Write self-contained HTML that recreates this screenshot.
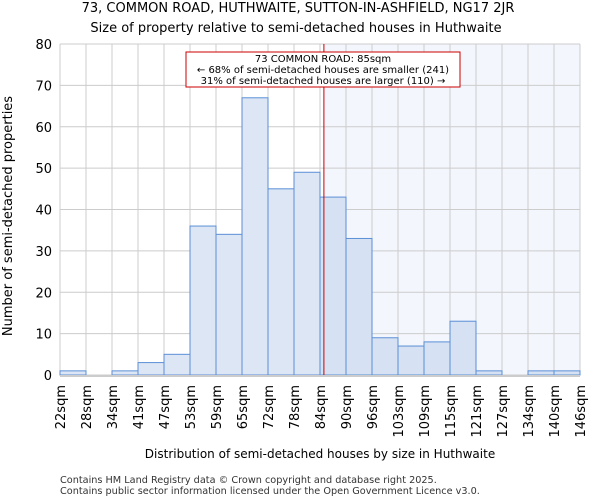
<!DOCTYPE html>
<html><head><meta charset="utf-8"><style>
body{margin:0;background:#fff;font-family:"DejaVu Sans","Liberation Sans",sans-serif}
svg text{font-family:"DejaVu Sans","Liberation Sans",sans-serif}
</style></head><body>
<svg id="chart" width="600" height="500">
<text x="298" y="12" font-size="13" text-anchor="middle">73, COMMON ROAD, HUTHWAITE, SUTTON-IN-ASHFIELD, NG17 2JR</text>
<text x="296" y="32" font-size="13" text-anchor="middle">Size of property relative to semi-detached houses in Huthwaite</text>
<g id="grid"></g><g id="bars"></g><g id="axes"></g>
<text x="320" y="458" font-size="12" text-anchor="middle">Distribution of semi-detached houses by size in Huthwaite</text>
<text transform="translate(12,216) rotate(-90)" font-size="13" text-anchor="middle">Number of semi-detached properties</text>
<text x="60" y="483" font-size="9.7" fill="#333">Contains HM Land Registry data © Crown copyright and database right 2025.</text>
<text x="60" y="494" font-size="9.7" fill="#333">Contains public sector information licensed under the Open Government Licence v3.0.</text>
</svg>
<script>
const categories=["22sqm","28sqm","34sqm","41sqm","47sqm","53sqm","59sqm","65sqm","72sqm","78sqm","84sqm","90sqm","96sqm","103sqm","109sqm","115sqm","121sqm","127sqm","134sqm","140sqm","146sqm"];
const counts=[1,0,1,3,5,36,34,67,45,49,43,33,9,7,8,13,1,0,1,1];
const yTicks=[0,10,20,30,40,50,60,70,80];
const markerBin=10.15;
const NS="http://www.w3.org/2000/svg";
const x0=60,x1=580,y0=375,y1=44,yMax=80;
const bw=(x1-x0)/counts.length;
const xs=i=>x0+i*bw;
const ys=v=>y0-(v/yMax)*(y0-y1);
function mk(t,a,p){const e=document.createElementNS(NS,t);for(const k in a)e.setAttribute(k,a[k]);p.appendChild(e);return e;}
const grid=document.getElementById('grid'),bars=document.getElementById('bars'),axes=document.getElementById('axes');
const mx=xs(markerBin);
const sh=mk('rect',{x:mx,y:y1,width:x1-mx,height:y0-y1,fill:'#f3f6fd'},grid);


yTicks.forEach(v=>{
 const l=mk('line',{x1:x0,x2:x1,y1:ys(v),y2:ys(v),stroke:'#ccc'},grid);
 
 
 const t=mk('text',{x:x0-8,y:ys(v)+5,'font-size':13,'text-anchor':'end'},axes);
 t.textContent=v;
 
 
});
categories.forEach((c,i)=>{
 const l=mk('line',{x1:xs(i),x2:xs(i),y1:y1,y2:y0,stroke:'#ccc'},grid);
 
 
 const t=mk('text',{transform:`translate(${xs(i)+5},${y0+10}) rotate(-90)`,'font-size':13,'text-anchor':'end'},axes);
 t.textContent=c;
 
 
});
counts.forEach((v,i)=>{
 if(v<=0)return;
 const r=mk('rect',{x:xs(i),y:ys(v),width:bw,height:y0-ys(v),fill:i>=10?'#d6e1f3':'#dde6f4',stroke:'#5b8fd6','stroke-width':1},bars);
 
 
});
const bl=mk('line',{x1:x0,x2:x1,y1:y0+1,y2:y0+1,stroke:'#ccc','stroke-width':2},axes);


const rl=mk('line',{x1:mx,x2:mx,y1:y1,y2:y0,stroke:'#cc0000','stroke-width':1},axes);


const box=mk('rect',{x:186,y:52,width:274,height:35,fill:'#fff',stroke:'#cc0000'},axes);


["73 COMMON ROAD: 85sqm","← 68% of semi-detached houses are smaller (241)","31% of semi-detached houses are larger (110) →"].forEach((s,k)=>{
 const t=mk('text',{x:323,y:62+k*11,'font-size':10,'text-anchor':'middle'},axes);
 t.textContent=s;
 
 
});
</script>
</body></html>
